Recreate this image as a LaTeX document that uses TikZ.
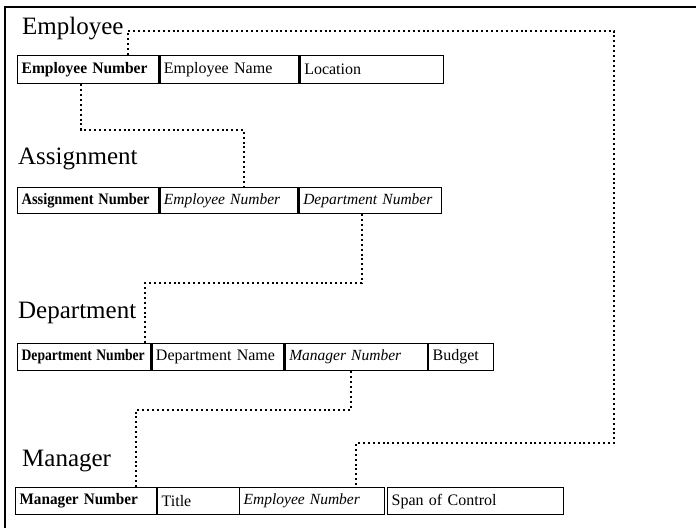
\documentclass[tikz,border=0pt]{standalone}
\usepackage{fontspec}
\setmainfont{Liberation Serif}
\usetikzlibrary{calc}
% horizontally condensed label text
\newcommand\sqz[2]{\scalebox{#1}[1]{#2}}
\begin{document}
\begin{tikzpicture}[x=1bp,y=-1bp,
  cell/.style={draw, line width=1.3bp, anchor=north west, inner xsep=4bp, inner ysep=0bp,
    minimum height=28bp, align=left, font=\fontsize{16bp}{18bp}\selectfont},
  keyf/.style={font=\fontsize{16bp}{18bp}\selectfont\bfseries},
  fkey/.style={font=\fontsize{15.5bp}{18bp}\selectfont\itshape},
  tabletitle/.style={anchor=base west, inner sep=0bp, font=\fontsize{25bp}{28bp}\selectfont},
  link/.style={line width=2bp, dash pattern=on 2bp off 2.9bp}]
\useasboundingbox (0,0) rectangle (696,528);
% outer frame (left and top edges)
\draw[line width=1.6bp] (5,528) -- (5,7) -- (696,7);

% Employee
\node[tabletitle] (tEmp) at (22,35) {Employee};
\node[cell, keyf, text width=133bp] (eNum) at (17,55) {\sqz{0.97}{Employee Number}};
\node[cell, text width=131bp] (eName) at (eNum.north east) {\mbox{Employee Name}};
\node[cell, text width=135bp] (eLoc) at (eName.north east) {Location};

% Assignment
\node[tabletitle] (tAsg) at (18,165) {Assignment};
\node[cell, keyf, text width=133bp, minimum height=26bp] (aNum) at (17,187) {\sqz{0.9}{Assignment Number}};
\node[cell, fkey, text width=130bp, minimum height=26bp] (aEmp) at (aNum.north east) {\mbox{Employee Number}};
\node[cell, fkey, text width=134bp, minimum height=26bp] (aDep) at (aEmp.north east) {\mbox{Department Number}};

% Department
\node[tabletitle] (tDep) at (18,318) {Department};
\node[cell, keyf, text width=125bp, minimum height=27bp] (dNum) at (17,343) {\sqz{0.85}{Department Number}};
\node[cell, text width=124bp, minimum height=27bp] (dName) at (dNum.north east) {\mbox{Department Name}};
\node[cell, fkey, text width=134bp, minimum height=27bp] (dMgr) at (dName.north east) {\mbox{Manager Number}};
\node[cell, text width=57bp, minimum height=27bp] (dBud) at (428,343) {Budget};

% Manager
\node[tabletitle] (tMgr) at (22,466) {Manager};
\node[cell, keyf, text width=133bp, minimum height=27bp] (mNum) at (15,487) {\sqz{0.95}{Manager Number}};
\node[cell, text width=74bp, minimum height=27bp] (mTitle) at (157,487) {Title};
\node[cell, fkey, text width=137bp, minimum height=27bp] (mEmp) at (239,487) {\mbox{Employee Number}};
\node[cell, text width=168bp, minimum height=27bp] (mSpan) at (387,487) {\mbox{Span of Control}};

% foreign key links
\coordinate (p1) at ($(eNum.south west)!0.45!(eNum.south east)$);
\coordinate (p2) at ($(aEmp.north west)!0.61!(aEmp.north east)$);
\draw[link] (p1) -- (p1 |- 0,130) -| (p2);

\coordinate (p3) at ($(aDep.south west)!0.44!(aDep.south east)$);
\coordinate (p4) at ($(dNum.north west)!0.955!(dNum.north east)$);
\draw[link] (p3) -- (p3 |- 0,283) -| (p4);

\coordinate (p5) at ($(dMgr.south west)!0.46!(dMgr.south east)$);
\coordinate (p6) at ($(mNum.north west)!0.85!(mNum.north east)$);
\draw[link] (p5) -- (p5 |- 0,410) -| (p6);

\coordinate (p7) at ($(eNum.north west)!0.78!(eNum.north east)$);
\coordinate (p8) at ($(mEmp.north west)!0.8!(mEmp.north east)$);
\draw[link] (p7) -- (p7 |- 0,31) -- (614,31) -- (614,443) -| (p8);
\end{tikzpicture}
\end{document}
